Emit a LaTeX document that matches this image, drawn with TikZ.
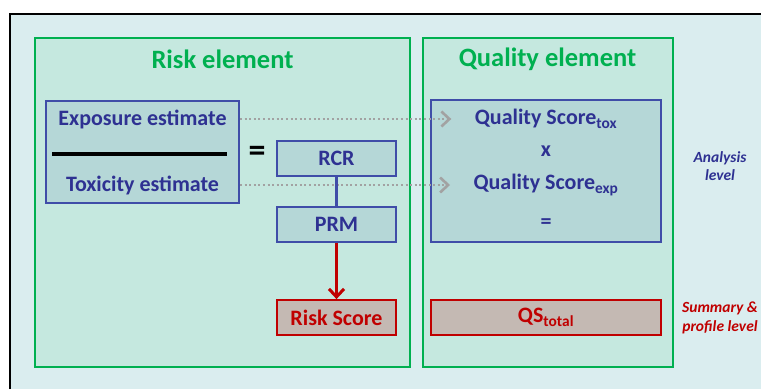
\documentclass[tikz,border=0pt]{standalone}
\usepackage{fontspec}
\setmainfont{Carlito}
\usetikzlibrary{arrows.meta}
\definecolor{bgblue}{HTML}{DAEDEF}
\definecolor{elgreen}{HTML}{00B050}
\definecolor{elfill}{HTML}{C5E8DF}
\definecolor{boxblue}{HTML}{3F4DA8}
\definecolor{boxfill}{HTML}{B5D7D7}
\definecolor{txtblue}{HTML}{2E3192}
\definecolor{boxred}{HTML}{C00000}
\definecolor{redfill}{HTML}{C4B9B3}
\definecolor{flowgray}{HTML}{A2A2A2}
\tikzset{
  element/.style={draw=elgreen, line width=2.2pt, fill=elfill},
  bluebox/.style={draw=boxblue, line width=1.8pt, fill=boxfill, text=txtblue,
    font=\fontsize{22}{26}\selectfont\bfseries, minimum width=119pt, minimum height=35pt},
  redbox/.style={draw=boxred, line width=1.8pt, fill=redfill, text=boxred,
    font=\fontsize{22}{26}\selectfont\bfseries, minimum height=35pt},
  bluetext/.style={text=txtblue, font=\fontsize{22}{26}\selectfont\bfseries},
  titletext/.style={text=elgreen, font=\fontsize{26.5}{30}\selectfont\bfseries},
  sidetext/.style={font=\fontsize{15.5}{18.5}\selectfont\bfseries\itshape, align=center},
  flow/.style={draw=flowgray, line width=2.4pt, dash pattern=on 2pt off 2.6pt,
    -{Straight Barb[length=8pt,width=15pt,line width=2.6pt]}}
}
\begin{document}
\begin{tikzpicture}[x=1pt,y=-1pt]
  \useasboundingbox (0,0) rectangle (761,389);
  \fill[bgblue] (10,14) rectangle (761,389);
  \draw[line width=2.5pt] (10,389) -- (10,14) -- (761,14);

  \filldraw[element] (35,38) rectangle (410,367);
  \filldraw[element] (423,38) rectangle (673,367);
  \node[titletext] (risktitle) at (222.5,59) {Risk element};
  \node[titletext] (qualtitle) at (547.5,59) {Quality element};

  \node[bluebox, minimum width=193pt, minimum height=102pt] (frac) at (142.5,152) {};
  \node[bluetext] (expo) at (142.5,119) {Exposure estimate};
  \node[bluetext] (toxi) at (142.5,185) {Toxicity estimate};
  \draw[line width=3.2pt] (52,154) -- (227,154);
  \node[font=\fontsize{34}{36}\selectfont\bfseries] (eq) at (257,154) {=};

  \node[bluebox, minimum width=230pt, minimum height=142pt] (qbox) at (546,171) {};
  \node[bluetext] (qtox) at (546,119) {Quality Score\textsubscript{tox}};
  \node[bluetext] (times) at (546,151) {x};
  \node[bluetext] (qexp) at (546,185) {Quality Score\textsubscript{exp}};
  \node[bluetext] (qeq) at (546,224) {=};
  \node[redbox, minimum width=230pt] (qs) at (546,317.5) {QS\textsubscript{total}};

  \draw[flow] (expo -| frac.east) -- ([xshift=-20pt]qtox.west);
  \draw[flow] (toxi -| frac.east) -- ([xshift=-20pt]qexp.west);

  \node[bluebox] (rcr) at (336.5,158.5) {RCR};
  \node[bluebox] (prm) at (336.5,224.5) {PRM};
  \node[redbox, minimum width=119pt] (risk) at (336.5,317.5) {Risk Score};
  \draw[boxblue, line width=3pt] (rcr) -- (prm);
  \draw[boxred, line width=3pt, -{Straight Barb[length=8pt,width=15pt,line width=3pt]}] (prm) -- (risk);

  \node[sidetext, text=txtblue] (anal) at (720,166) {Analysis\\level};
  \node[sidetext, text=boxred] (summ) at (720,318) {Summary \&\\profile level};
\end{tikzpicture}
\end{document}
